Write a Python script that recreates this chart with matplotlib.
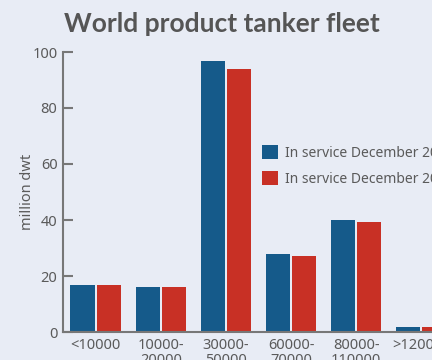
import numpy as np
import matplotlib
matplotlib.use('Agg')
import matplotlib.pyplot as plt

#data
categories = ['<10000', '10000-\n20000', '30000-\n50000', '60000-\n70000', '80000-\n110000', '>120000']
fleet_a = [16.8, 16.1, 96.8, 27.9, 40.0, 1.9]
fleet_b = [16.8, 16.1, 93.9, 27.1, 39.3, 1.9]
labels = ['In service December 2015', 'In service December 2016']

bg = '#e8ecf5'
grey = '#5a5a5a'
plt.rcParams['font.family'] = ['Noto Sans', 'DejaVu Sans']

fig = plt.figure(figsize=(4.32, 3.6), dpi=100, facecolor=bg)
#axes runs past the right edge, like the cropped original
ax = fig.add_axes([63/432, 28/360, 391/432, 280/360], facecolor=bg)

x = np.arange(len(categories))
w = 0.37
ax.bar(x - 0.2, fleet_a, w, color='#155a8a', label=labels[0])
ax.bar(x + 0.2, fleet_b, w, color='#c83025', label=labels[1])

ax.set_xlim(-0.5, 5.5)
ax.set_ylim(0, 100)
ax.set_yticks([0, 20, 40, 60, 80, 100])
ax.set_xticks(x)
ax.set_xticklabels(categories, linespacing=1.0)
ax.tick_params(axis='y', direction='in', length=7.5, width=1.5, color='#777777',
               labelsize=10.5, labelcolor=grey, pad=4)
ax.tick_params(axis='x', length=0, labelsize=10.5, labelcolor=grey, pad=4)
for s in ['top', 'right']:
    ax.spines[s].set_visible(False)
for s in ['left', 'bottom']:
    ax.spines[s].set_color('#777777')
    ax.spines[s].set_linewidth(1.5)
ax.set_ylabel('million dwt', fontsize=10.5, color=grey, labelpad=-2)

fig.text(222/432, 1 - 24/360, 'World product tanker fleet', ha='center', va='center',
         fontsize=19, fontweight='bold', color='#555555', family=['Lato', 'DejaVu Sans'])

fig.legend(loc='upper left', bbox_to_anchor=(262/432, 1 - 145/360), frameon=False,
           fontsize=10, handlelength=1.15, handleheight=1.15, handletextpad=0.5,
           labelspacing=0.75, borderpad=0, borderaxespad=0, labelcolor=grey)

plt.savefig('out.png', dpi=100, facecolor=bg)
